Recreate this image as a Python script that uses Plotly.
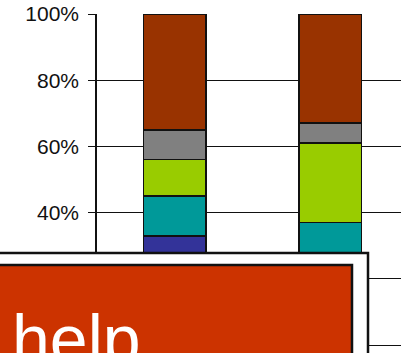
import plotly.graph_objects as go

categories = [0, 1]
series_names = ["Blue", "Teal", "Green", "Gray", "Brown"]
blue = [33, 25]
teal = [12, 12]
green = [11, 24]
gray = [9, 6]
brown = [35, 33]
colors = ["#333399", "#009999", "#99CC00", "#808080", "#993300"]
tick_vals = [0, 20, 40, 60, 80, 100]
tick_text = ["0%", "20%", "40%", "60%", "80%", "100%"]

W, H = 401, 353
L, R, T, B = 97, 0, 14, 8
pw, ph = W - L - R, H - T - B

def px(x):
    return (x - L) / pw

def py(y):
    return (H - B - y) / ph

fig = go.Figure()
for name, vals, col in zip(series_names, [blue, teal, green, gray, brown], colors):
    fig.add_trace(go.Bar(x=categories, y=vals, name=name, width=0.405,
                         marker=dict(color=col, line=dict(color="#111", width=1.5))))

shapes = [
    dict(type="rect", xref="paper", yref="paper", x0=px(-5), x1=px(368), y0=py(253), y1=py(370),
         fillcolor="white", line=dict(color="#111", width=2.5), layer="above"),
    dict(type="rect", xref="paper", yref="paper", x0=px(-5), x1=px(352), y0=py(265), y1=py(370),
         fillcolor="#CC3300", line=dict(color="#111", width=2.5), layer="above"),
]

fig.update_layout(
    barmode="stack", width=W, height=H,
    margin=dict(l=L, r=R, t=T, b=B),
    plot_bgcolor="white", paper_bgcolor="white",
    showlegend=False,
    xaxis=dict(range=[-0.5, 1.455], showticklabels=False, showgrid=False, zeroline=False,
               showline=False, ticks=""),
    yaxis=dict(range=[0, 100], tickvals=tick_vals, ticktext=tick_text, showgrid=True,
               gridcolor="#111", gridwidth=1, zeroline=True, zerolinecolor="#111",
               zerolinewidth=1, showline=True, linecolor="#111",
               linewidth=1.5, ticks="outside", ticklen=7, tickcolor="#111", tickwidth=1,
               ticklabelstandoff=5,
               tickfont=dict(family="Liberation Sans, Arial", size=21, color="#111")),
    shapes=shapes,
    annotations=[dict(text="help", xref="paper", yref="paper", x=px(10), y=py(299),
                      xanchor="left", yanchor="top", showarrow=False,
                      font=dict(family="Liberation Sans, Arial", size=68, color="white"))],
)
fig.write_html("out.html")
